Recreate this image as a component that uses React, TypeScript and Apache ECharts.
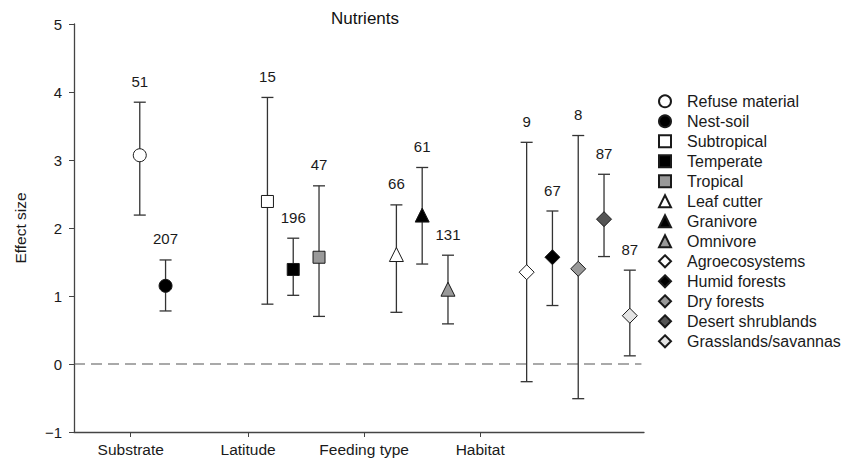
import React, { useEffect, useRef } from "react";
import * as echarts from "echarts";

// ---- data ----
const names = [
  "Refuse material", "Nest-soil", "Subtropical", "Temperate", "Tropical",
  "Leaf cutter", "Granivore", "Omnivore", "Agroecosystems", "Humid forests",
  "Dry forests", "Desert shrublands", "Grasslands/savannas",
];
const positions = [2.55, 3.55, 7.5, 8.5, 9.5, 12.5, 13.5, 14.5, 17.55, 18.55, 19.55, 20.55, 21.55];
const means = [3.07, 1.15, 2.39, 1.39, 1.57, 1.61, 2.19, 1.1, 1.35, 1.57, 1.4, 2.13, 0.71];
const lower = [2.19, 0.78, 0.88, 1.01, 0.7, 0.76, 1.47, 0.59, -0.26, 0.86, -0.51, 1.58, 0.12];
const upper = [3.85, 1.53, 3.92, 1.85, 2.62, 2.34, 2.89, 1.6, 3.26, 2.25, 3.36, 2.79, 1.38];
const counts = [51, 207, 15, 196, 47, 66, 61, 131, 9, 67, 8, 87, 87];
const groupLabels = ["Substrate", "Latitude", "Feeding type", "Habitat"];
const groupTicks = [2.2, 6.75, 11.25, 15.75];

// ---- styles ----
const symbols = ["circle", "circle", "rect", "rect", "rect", "triangle", "triangle", "triangle",
  "diamond", "diamond", "diamond", "diamond", "diamond"];
const fills = ["#ffffff", "#000000", "#ffffff", "#000000", "#999999", "#ffffff", "#000000", "#999999",
  "#ffffff", "#000000", "#999999", "#555555", "#e4e4e4"];
const sizes = [13, 13, 12, 12, 12, 14, 14, 14, 15, 15, 15, 15, 15];
const FONT = "'Liberation Sans', Arial, sans-serif";

export default function App() {
  const ref = useRef<HTMLDivElement>(null);
  useEffect(() => {
    document.body.style.margin = "0";
    if (!ref.current) return;
    const chart = echarts.init(ref.current, null, { renderer: "svg" });

    const errData = positions.map((x, i) => [x, lower[i], upper[i], counts[i]]);

    const scatterSeries = names.map((n, i) => ({
      name: n,
      type: "scatter",
      symbol: symbols[i],
      symbolSize: sizes[i],
      symbolKeepAspect: true,
      itemStyle: { color: fills[i], borderColor: "#1a1a1a", borderWidth: 1, opacity: 1 },
      data: [[positions[i], means[i]]],
      z: 5,
    }));

    const option: any = {
      animation: false,
      textStyle: { fontFamily: FONT },
      title: {
        text: "Nutrients",
        left: 360,
        top: 5,
        textAlign: "center",
        textStyle: { fontSize: 17, fontWeight: "normal", color: "#111", fontFamily: FONT },
      },
      legend: {
        orient: "vertical",
        left: 653,
        top: 88.3,
        itemWidth: 12,
        itemHeight: 12,
        itemGap: 4,
        data: names,
        textStyle: { fontSize: 16, color: "#1a1a1a", fontFamily: FONT, padding: [0, 0, 0, 11] },
      },
      grid: { left: 74, right: 205, top: 24, bottom: 32 },
      xAxis: {
        type: "value",
        min: 0,
        max: 22.1,
        splitLine: { show: false },
        axisLine: { onZero: false, lineStyle: { color: "#444", width: 1.3 } },
        axisTick: { show: true, length: 5, customValues: groupTicks, lineStyle: { color: "#444" } },
        axisLabel: {
          customValues: groupTicks,
          formatter: (v: number) => {
            const idx = groupTicks.findIndex((t) => Math.abs(t - v) < 1e-6);
            return idx >= 0 ? groupLabels[idx] : "";
          },
          fontSize: 15.5,
          color: "#1a1a1a",
          margin: 9,
          fontFamily: FONT,
        },
      },
      yAxis: {
        type: "value",
        min: -1,
        max: 5,
        interval: 1,
        name: "Effect size",
        nameLocation: "middle",
        nameGap: 46,
        nameTextStyle: { fontSize: 15.5, color: "#1a1a1a", fontFamily: FONT },
        splitLine: { show: false },
        axisLine: { show: true, lineStyle: { color: "#444", width: 1.3 } },
        axisTick: { show: true, length: 5, lineStyle: { color: "#444" } },
        axisLabel: {
          fontSize: 15,
          color: "#1a1a1a",
          margin: 12,
          fontFamily: FONT,
          formatter: (v: number) => (v < 0 ? "\u2212" + Math.abs(v) : String(v)),
        },
      },
      series: [
        {
          type: "line",
          data: [[0, 0], [22.0, 0]],
          symbol: "none",
          silent: true,
          lineStyle: { color: "#555", width: 1.2, type: [11, 6] },
          z: 1,
        },
        {
          type: "custom",
          silent: true,
          z: 3,
          data: errData,
          renderItem: (params: any, api: any) => {
            const x = api.value(0);
            const lo = api.coord([x, api.value(1)]);
            const hi = api.coord([x, api.value(2)]);
            const cw = 6;
            const st = { stroke: "#333", lineWidth: 1.3 };
            return {
              type: "group",
              children: [
                { type: "line", shape: { x1: lo[0], y1: lo[1], x2: hi[0], y2: hi[1] }, style: st },
                { type: "line", shape: { x1: lo[0] - cw, y1: lo[1], x2: lo[0] + cw, y2: lo[1] }, style: st },
                { type: "line", shape: { x1: hi[0] - cw, y1: hi[1], x2: hi[0] + cw, y2: hi[1] }, style: st },
                {
                  type: "text",
                  style: {
                    text: String(api.value(3)),
                    x: hi[0],
                    y: hi[1] - 21,
                    align: "center",
                    verticalAlign: "middle",
                    fontSize: 15,
                    fill: "#1a1a1a",
                    fontFamily: FONT,
                  },
                },
              ],
            };
          },
        },
        ...scatterSeries,
      ],
    };
    chart.setOption(option);
    return () => chart.dispose();
  }, []);
  return <div ref={ref} style={{ width: 849, height: 464 }} />;
}
